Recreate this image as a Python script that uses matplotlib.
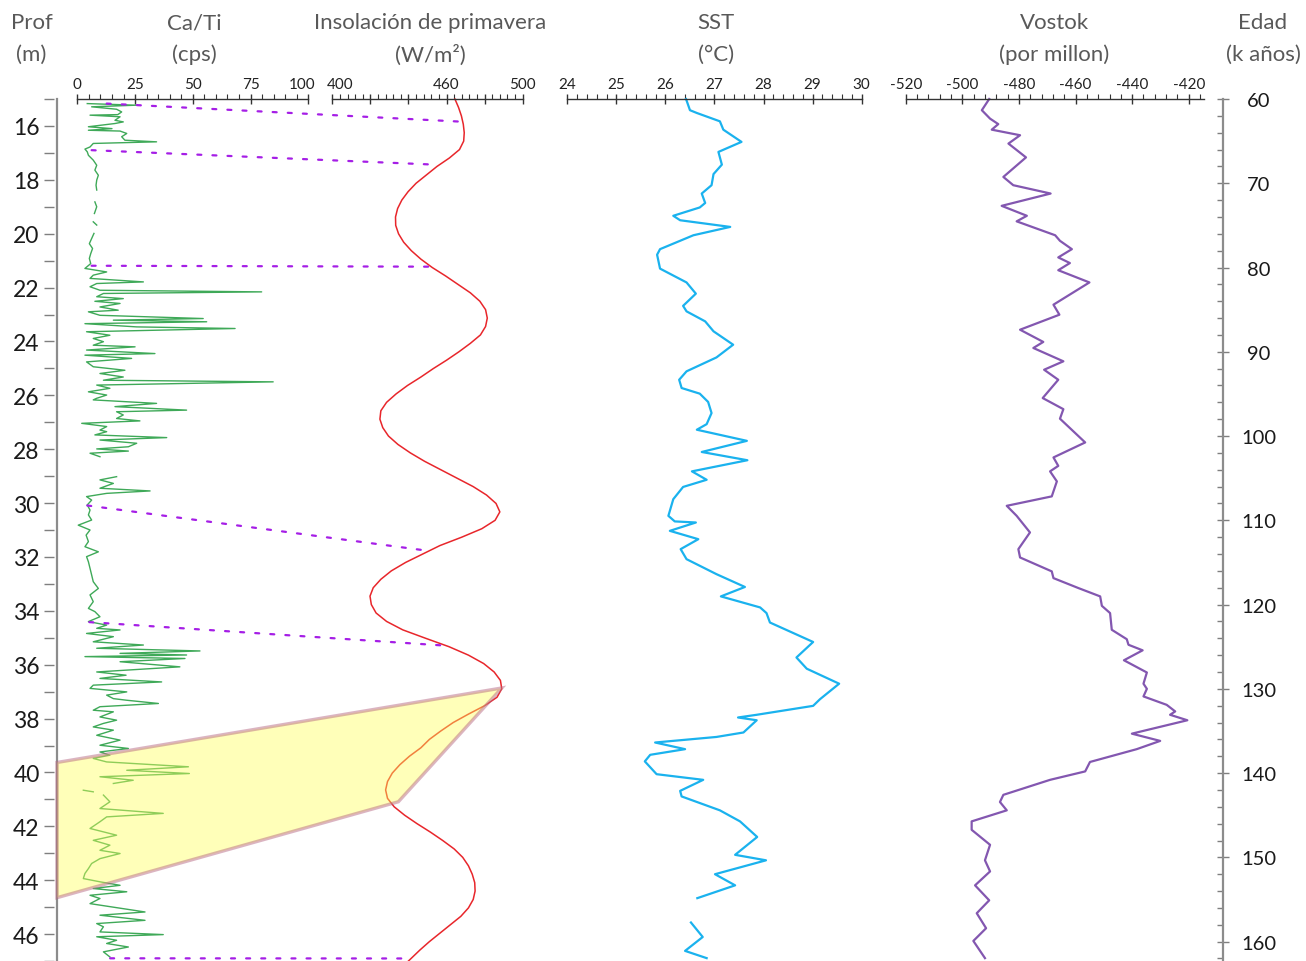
import numpy as np
import matplotlib.pyplot as plt
from matplotlib.patches import ConnectionPatch, Polygon
from matplotlib.ticker import FixedLocator, MultipleLocator
from matplotlib.transforms import ScaledTranslation

plt.rcParams['font.family'] = ['Lato', 'DejaVu Sans']
plt.rcParams['axes.unicode_minus'] = False

# ---- datos ----
# Ca/Ti (cps) contra profundidad (m); nan = hueco
prof = [15.17, 15.23, 15.29, 15.38, 15.48, 15.58, 15.60, 15.66, 15.79, 15.85, 15.91, 16.03, 16.10, 16.16,
        16.19, 16.28, 16.40, 16.53, 16.59, 16.65, 16.78, 16.86, 16.96, 17.09, 17.27, 17.46, 17.64, 17.83,
        18.01, 18.20, 18.38, np.nan, 18.82, 19.00, 19.25, np.nan, 19.56, 19.68, np.nan, 19.99, 20.18, 20.37,
        20.55, 20.74, 20.92, 21.11, 21.29, 21.42, 21.54, 21.66, 21.79, 21.85, 21.97, 22.10, 22.16, 22.22,
        22.34, 22.41, 22.51, 22.59, 22.72, 22.84, 22.90, 23.03, 23.15, 23.21, 23.27, 23.34, 23.46, 23.52,
        23.58, 23.64, 23.77, 23.89, 24.01, 24.14, 24.20, 24.32, 24.45, 24.51, 24.63, 24.76, 24.94, 25.07,
        25.19, 25.32, 25.44, 25.50, 25.62, 25.74, 25.87, 25.99, 26.11, 26.17, 26.30, 26.42, 26.55, 26.61,
        26.73, 26.86, 26.95, 27.04, 27.16, 27.29, 27.35, 27.47, 27.57, 27.66, 27.78, 27.91, 27.99, 28.07,
        28.15, 28.28, np.nan, 29.02, 29.14, 29.27, 29.45, 29.55, 29.64, 29.76, 29.89, 30.07, 30.26, 30.44,
        30.63, 30.82, 31.00, 31.19, 31.43, 31.62, 31.81, 31.99, 32.18, 32.42, 32.67, 32.92, 33.17, 33.41,
        33.66, 33.91, 34.03, 34.22, 34.40, 34.53, 34.65, 34.71, 34.84, 34.96, 35.15, 35.27, 35.39, 35.49,
        35.58, 35.64, 35.70, 35.77, 35.89, 36.08, 36.27, 36.39, 36.51, 36.64, 36.76, 36.88, 37.01, 37.13,
        37.26, 37.32, 37.44, 37.56, 37.69, 37.75, 37.94, 38.06, 38.18, 38.31, 38.43, 38.62, 38.80, 38.99,
        39.11, 39.24, 39.36, 39.48, 39.61, 39.79, 39.92, 40.04, 40.16, 40.29, 40.41, np.nan, 40.66, 40.72,
        np.nan, 40.84, 41.09, 41.34, 41.52, 41.65, 41.83, 42.08, 42.33, 42.52, 42.70, 42.89, 43.01, 43.20,
        43.38, 43.57, 43.75, 43.94, 44.06, 44.19, 44.31, 44.43, 44.56, 44.68, 44.87, 45.18, 45.30, 45.49,
        45.61, 45.73, 45.92, 46.02, 46.10, 46.23, 46.35, 46.48, 46.66, 46.85]
ca_ti = [4.3, 25.4, 6.2, 17.0, 19.2, 17.5, 5.5, 18.5, 16.3, 19.9, 16.3, 4.8, 15.0, 4.8,
         18.5, 21.4, 19.2, 20.6, 34.3, 6.9, 5.5, 3.3, 4.3, 4.8, 6.9, 8.4, 7.6, 9.1,
         8.4, 8.1, 8.4, np.nan, 7.6, 8.4, 7.4, np.nan, 6.9, 8.4, np.nan, 7.2, 6.2, 5.2,
         6.6, 5.8, 5.2, 5.8, 3.3, 12.7, 6.9, 5.5, 28.6, 8.4, 5.5, 9.8, 79.8, 11.3,
         8.4, 19.9, 7.6, 18.5, 9.8, 17.7, 4.8, 9.8, 54.5, 15.6, 56.0, 3.3, 25.7, 68.3,
         35.8, 4.0, 14.1, 6.9, 11.3, 6.9, 25.0, 4.0, 33.6, 3.3, 23.5, 4.0, 6.9, 20.6,
         9.8, 19.9, 11.3, 84.8, 8.4, 14.1, 4.8, 12.7, 8.4, 6.9, 34.3, 16.3, 47.3, 17.0,
         19.9, 17.0, 27.1, 1.9, 12.7, 9.8, 12.7, 7.6, 38.7, 9.8, 25.7, 22.1, 8.4, 22.1,
         5.5, 9.8, np.nan, 17.0, 9.8, 15.6, 9.8, 31.5, 12.7, 4.0, 6.2, 4.3, 5.5, 4.8,
         6.2, 0.4, 5.5, 3.8, 4.8, 3.3, 9.1, 4.0, 4.8, 5.5, 6.2, 6.9, 9.1, 5.5,
         6.9, 4.8, 7.6, 9.8, 4.8, 12.7, 8.4, 18.5, 4.0, 15.6, 6.9, 28.6, 8.4, 53.1,
         18.5, 47.3, 3.3, 46.6, 18.5, 44.4, 8.4, 21.1, 9.8, 36.5, 6.9, 5.5, 21.4, 12.7,
         15.6, 21.4, 35.1, 9.8, 6.9, 15.6, 9.8, 17.0, 11.3, 6.9, 15.6, 8.4, 18.5, 9.8,
         22.1, 9.8, 14.1, 6.9, 12.7, 48.1, 21.4, 48.5, 9.8, 24.2, 15.6, np.nan, 2.6, 6.9,
         np.nan, 11.3, 14.1, 9.8, 37.2, 12.7, 9.8, 5.5, 17.0, 6.9, 14.1, 9.8, 18.5, 9.8,
         6.2, 4.8, 3.3, 2.6, 9.8, 18.5, 6.9, 21.4, 5.5, 9.8, 5.5, 29.3, 9.8, 29.3,
         8.4, 11.3, 9.8, 37.2, 8.4, 17.0, 12.7, 22.1, 11.3, 14.1]

# insolacion de primavera (W/m2) contra edad (k anos)
edad_ins = [60, 61, 62, 63, 64, 65, 66, 67, 68, 69, 70, 71, 72, 73, 74, 75, 76, 77, 78, 79, 80,
            81, 82, 83, 84, 85, 86, 87, 88, 89, 90, 91, 92, 93, 94, 95, 96, 97, 98, 99, 100,
            101, 102, 103, 104, 105, 106, 107, 108, 109, 110, 111, 112, 113, 114, 115, 116, 117,
            118, 119, 120, 121, 122, 123, 124, 125, 126, 127, 128, 129, 130, 131, 132, 133, 134,
            135, 136, 137, 138, 139, 140, 141, 142, 143, 144, 145, 146, 147, 148, 149, 150, 151,
            152, 153, 154, 155, 156, 157, 158, 159, 160, 161, 162.3]
insol = [464.4, 466.3, 467.8, 468.8, 469.3, 469.0, 466.8, 461.5, 455.0, 449.5, 444.0, 439.8, 436.5,
         434.3, 433.2, 433.3, 434.8, 437.5, 441.5, 446.5, 452.5, 459.5, 466.0, 472.5, 477.5, 480.5,
         481.4, 480.5, 477.8, 472.5, 466.5, 460.0, 453.0, 446.5, 439.5, 433.5, 428.5, 425.5, 425.0,
         426.5, 429.5, 434.5, 441.0, 448.5, 457.0, 465.5, 474.0, 481.0, 486.0, 488.0, 485.5, 478.5,
         468.0, 456.5, 447.5, 438.5, 431.0, 425.5, 421.5, 419.8, 420.5, 423.0, 428.5, 437.0, 449.0,
         461.3, 471.5, 479.5, 485.0, 488.3, 489.0, 486.5, 480.0, 471.5, 463.5, 457.0, 451.0, 446.5,
         440.5, 435.5, 431.5, 429.0, 428.0, 429.0, 432.5, 438.0, 444.5, 451.5, 458.0, 464.0, 468.5,
         471.5, 473.5, 474.8, 475.0, 474.0, 471.5, 467.5, 462.0, 456.5, 451.0, 446.0, 440.0]

# SST (C) contra edad
edad_sst = [60.0, 61.33, 61.66, 62.65, 63.64, 65.09, 66.28, 67.79, 68.91, 70.23, 71.22, 72.34, 72.87,
            73.86, 74.39, 75.18, 76.17, 77.82, 78.48, 80.13, 81.77, 83.10, 84.55, 85.20, 86.39, 87.57,
            89.16, 90.67, 92.32, 93.32, 94.30, 94.97, 95.95, 97.27, 98.59, 99.25, 100.57, 101.89,
            102.87, 104.19, 105.19, 106.04, 107.49, 109.47, 110.13, 110.26, 111.25, 112.24, 113.42,
            114.61, 116.39, 117.91, 119.03, 120.34, 121.01, 122.13, 124.44, 126.28, 127.61, 129.39,
            131.23, 132.02, 133.08, 133.40, 133.73, 135.18, 135.71, 136.37, 137.16, 137.83, 138.61,
            140.13, 140.80, 142.11, 142.77, 144.42, 145.73, 147.58, 149.70, 150.35, 152.0, 153.32,
            154.84, np.nan, 157.73, 159.45, 161.10, 161.96]
sst = [26.42, 26.5, 26.64, 27.11, 27.18, 27.55, 27.08, 27.15, 26.98, 26.94, 26.74, 26.81, 26.70,
       26.16, 26.30, 27.32, 26.57, 25.89, 25.83, 25.89, 26.43, 26.62, 26.36, 26.43, 26.81, 26.98,
       27.38, 27.04, 26.43, 26.28, 26.33, 26.70, 26.87, 26.94, 26.84, 26.64, 27.66, 26.74,
       27.67, 26.54, 26.84, 26.36, 26.16, 26.06, 26.19, 26.62, 26.09, 26.67, 26.31,
       26.43, 27.04, 27.62, 27.13, 27.93, 28.06, 28.13, 29.01, 28.67, 28.88, 29.54,
       29.15, 29.01, 27.86, 27.48, 27.86, 27.59, 27.04, 25.79, 26.40, 25.69, 25.58,
       25.82, 26.77, 26.30, 26.33, 27.11, 27.52, 27.87, 27.42, 28.05, 27.01, 27.42,
       26.65, np.nan, 26.52, 26.76, 26.40, 26.84]

# Vostok (por millon) contra edad
edad_vos = [60.0, 61.33, 62.33, 62.98, 63.64, 64.30, 65.29, 66.93, 69.25, 70.23, 71.22, 72.68, 73.86,
            74.52, 76.17, 76.83, 77.82, 78.80, 79.47, 80.32, 81.77, 84.41, 85.60, 87.38, 88.83, 89.55,
            91.13, 92.13, 93.32, 95.49, 96.81, 97.94, 100.76, 102.54, 103.54, 104.19, 105.38, 107.16,
            108.28, 109.47, 111.44, 113.42, 114.41, 116.06, 116.86, 118.04, 119.03, 120.15, 121.01,
            122.99, 124.11, 124.77, 125.43, 126.61, 128.06, 129.39, 130.0, 130.90, 131.90, 132.68,
            133.08, 133.73, 135.32, 136.18, 137.16, 138.68, 139.80, 140.80, 142.58, 143.43, 144.42,
            145.73, 146.73, 148.51, 150.35, 151.67, 153.32, 155.10, 156.63, 158.41, 159.92, 161.96]
vostok = [-490.5, -493.1, -490.2, -487.3, -489.6, -479.6, -483.7, -477.5, -485.5, -482.0, -468.8, -486.1,
          -477.2, -480.8, -467.2, -465.5, -461.3, -466.1, -462.0, -466.1, -455.1, -467.8, -465.7, -479.6,
          -471.4, -474.9, -464.3, -471.1, -466.1, -471.6, -464.3, -465.5, -456.6, -467.8, -466.1, -469.0,
          -466.6, -468.4, -484.3, -480.8, -476.1, -480.2, -479.6, -468.4, -467.8, -459.0, -451.3, -450.7,
          -447.8, -447.2, -441.9, -441.3, -436.3, -442.9, -434.8, -436.0, -434.8, -436.0, -427.8, -424.8,
          -426.6, -420.5, -440.1, -430.1, -438.4, -454.9, -456.6, -469.0, -485.5, -486.7, -484.3,
          -496.7, -496.7, -490.2, -492.0, -490.2, -495.5, -490.5, -494.9, -491.6, -496.1, -492.0]

# puntos de amarre profundidad -> edad (lineas punteadas)
amarre_prof = [15.17, 16.9, 21.19, 30.09, 34.42, 46.9]
amarre_cati = [12.7, 6.2, 6.2, 4.3, 5.2, 14.2]
amarre_edad = [62.7, 67.8, 79.9, 113.6, 124.9, 162.0]
amarre_ins = [468.6, 455.0, 452.9, 449.7, 461.3, 440.8]

# zona sombreada (Terminacion II)
zona_prof = [39.63, 44.65]
zona_edad = [129.9, 143.4]
zona_ins = [489.0, 434.7]

# ---- figura ----
W, H = 1306, 962
fig = plt.figure(figsize=(W / 100, H / 100), dpi=100)
TOP, BOT = 100, 962


def px_axes(x0, x1):
    ax = fig.add_axes([x0 / W, 1 - BOT / H, (x1 - x0) / W, (BOT - TOP) / H])
    ax.set_facecolor('none')
    for s in ax.spines.values():
        s.set_visible(False)
    ax.spines['top'].set_visible(True)
    ax.spines['top'].set_color('#333333')
    ax.spines['top'].set_linewidth(1.0)
    ax.xaxis.tick_top()
    ax.tick_params(axis='x', which='major', direction='inout', length=7, width=1,
                   color='#333333', labelsize=11, labelcolor='#222222', pad=2)
    ax.tick_params(axis='x', which='minor', direction='out', length=3.5, width=0.8, color='#333333')
    ax.tick_params(axis='y', left=False, labelleft=False)
    return ax


def nudge(label, dx_px):
    label.set_transform(label.get_transform() + ScaledTranslation(dx_px / 100, 0, fig.dpi_scale_trans))


# Ca/Ti
ax_ca = px_axes(57, 308.3)
ax_ca.set_xlim(-8.8, 100)
ax_ca.set_ylim(47, 15)
ax_ca.spines['top'].set_bounds(0, 100)
ax_ca.set_xticks([0, 25, 50, 75, 100])
ax_ca.xaxis.set_minor_locator(FixedLocator(np.arange(0, 101, 5)))
ax_ca.plot(ca_ti, prof, color='#1d9a3b', lw=1.0, alpha=0.85, clip_on=False)
# eje de profundidad
ax_ca.spines['left'].set_position(('outward', 2.5))
ax_ca.tick_params(axis='y', which='both', left=True, labelleft=True, direction='out',
                  length=7, width=1, color='#7f7f7f', labelsize=16.5, labelcolor='#1a1a1a', pad=3)
ax_ca.set_yticks(np.arange(16, 47, 2))
ax_ca.yaxis.set_minor_locator(FixedLocator(np.arange(15, 48, 2)))
ax_ca.axvline(-8.8, color='#8c8c8c', lw=1.6, clip_on=False)
nudge(ax_ca.get_xticklabels()[-1], -6)

# Insolacion
ax_ins = px_axes(332.3, 522.7)
ax_ins.set_xlim(400, 500)
ax_ins.set_ylim(162.3, 60)
ax_ins.set_xticks(np.arange(400, 501, 20), ['400', '', '', '460', '', '500'])
ax_ins.xaxis.set_minor_locator(FixedLocator(np.arange(400, 501, 4)))
ax_ins.plot(insol, edad_ins, color='#e8262b', lw=1.1, clip_on=False)
nudge(ax_ins.get_xticklabels()[0], 8)

# SST
ax_sst = px_axes(567.3, 861.7)
ax_sst.set_xlim(24, 30)
ax_sst.set_ylim(162.3, 60)
ax_sst.set_xticks(np.arange(24, 31, 1))
ax_sst.xaxis.set_minor_locator(MultipleLocator(0.2))
ax_sst.plot(sst, edad_sst, color='#1ab2ee', lw=1.6, clip_on=False)

# Vostok + eje de edad
ax_vos = px_axes(905.7, 1223.3)
ax_vos.set_xlim(-520, -407.8)
ax_vos.set_ylim(162.3, 60)
ax_vos.spines['top'].set_bounds(-520, -414.7)
ax_vos.set_xticks(np.arange(-520, -419, 20))
ax_vos.xaxis.set_minor_locator(FixedLocator(np.arange(-520, -414, 4)))
ax_vos.plot(vostok, edad_vos, color='#8357b0', lw=1.6, clip_on=False)
ax_vos.spines['right'].set_visible(True)
ax_vos.spines['right'].set_color('#8c8c8c')
ax_vos.spines['right'].set_linewidth(1.6)
ax_vos.yaxis.tick_right()
ax_vos.tick_params(axis='y', which='major', right=True, labelright=True, direction='inout',
                   length=9, width=1, color='#7f7f7f', labelsize=14.5, labelcolor='#1a1a1a', pad=21)
ax_vos.tick_params(axis='y', which='minor', right=True, direction='in', length=4, width=1,
                   color='#7f7f7f')
ax_vos.set_yticks(np.arange(60, 161, 10))
ax_vos.yaxis.set_minor_locator(MultipleLocator(2))
for lab in ax_vos.get_yticklabels():
    lab.set_horizontalalignment('center')

# lineas punteadas de amarre
for c, p, i, e in zip(amarre_cati, amarre_prof, amarre_ins, amarre_edad):
    con = ConnectionPatch(xyA=(c, p), coordsA='data', axesA=ax_ca,
                          xyB=(i, e), coordsB='data', axesB=ax_ins,
                          color='#a51ee6', lw=1.6, linestyle=(0, (1.8, 5)))
    fig.add_artist(con)

# poligono amarillo
to_fig = fig.transFigure.inverted()
x_left = ax_ca.get_xlim()[0]
pts = [to_fig.transform(ax_ca.transData.transform((x_left, zona_prof[0]))),
       to_fig.transform(ax_ins.transData.transform((zona_ins[0], zona_edad[0]))),
       to_fig.transform(ax_ins.transData.transform((zona_ins[1], zona_edad[1]))),
       to_fig.transform(ax_ca.transData.transform((x_left, zona_prof[1])))]
fig.add_artist(Polygon(pts, closed=True, transform=fig.transFigure,
                       facecolor=(1, 1, 0.35, 0.42), edgecolor=(0.72, 0.42, 0.52, 0.5),
                       lw=2.4, zorder=3))

# titulos
tc = '#595959'
titulos = [(31.5, 'Prof', '(m)'), (194, 'Ca/Ti', '(cps)'),
           (430, 'Insolación de primavera', '(W/m²)'), (716, 'SST', '(°C)'),
           (1054, 'Vostok', '(por millon)'), (1263, 'Edad', '(k años)')]
for x, t1, t2 in titulos:
    fig.text(x / W, 1 - 23 / H, t1, ha='center', va='center', fontsize=16, color=tc)
    fig.text(x / W, 1 - 55 / H, t2, ha='center', va='center', fontsize=16, color=tc)

fig.savefig('out.png', dpi=100)
